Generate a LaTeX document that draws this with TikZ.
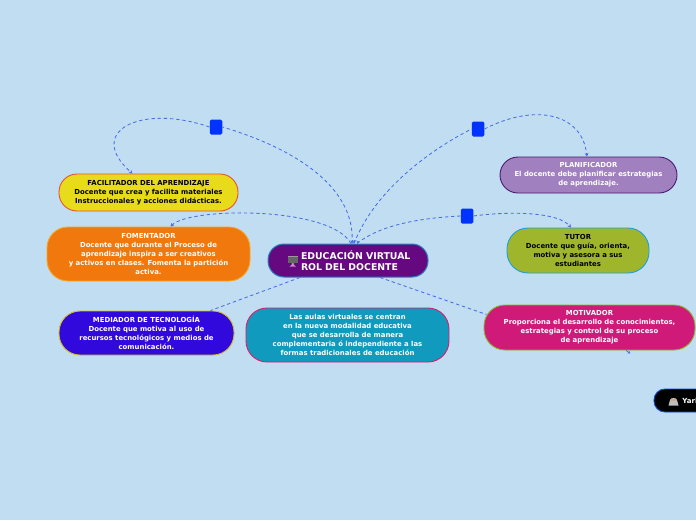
\documentclass[tikz,border=0pt]{standalone}
\usepackage{fontspec}
\setmainfont{DejaVu Sans}
\usetikzlibrary{arrows.meta}
\definecolor{bgc}{HTML}{C1DDF1}
\definecolor{linkc}{HTML}{4A6EE6}
\definecolor{handlec}{HTML}{0033FF}
\tikzset{
  topic/.style={draw, line width=0.9pt, rounded corners=21pt, align=center, inner sep=0pt, font=\fontsize{6.9}{8.9}\selectfont\bfseries},
  handle/.style={draw=none, fill=handlec, rounded corners=1.5pt, minimum width=12.5pt, minimum height=15pt, inner sep=0pt},
  link/.style={draw=linkc, line width=0.85pt, dash pattern=on 3.4pt off 2.8pt},
  linkarrow/.style={link, -{Stealth[length=3.5pt,width=3.8pt]}}
}
\begin{document}
\begin{tikzpicture}[x=1pt,y=-1pt]
\useasboundingbox (0,0) rectangle (696,520);
\clip (0,0) rectangle (696,520);
\fill[bgc] (0,0) rectangle (696,520);
% handles
\node[handle] (h1) at (216,127) {};
\node[handle] (h2) at (478,129) {};
\node[handle] (h3) at (467,216) {};
% topics
\node[topic, rounded corners=18pt, draw={rgb,255:red,232;green,80;blue,58}, fill={rgb,255:red,232;green,220;blue,26}, text=black, minimum width=179pt, minimum height=37pt] (fac) at (148.5,192.5) {FACILITADOR DEL APRENDIZAJE\\Docente que crea y facilita materiales\\Instruccionales y acciones didácticas.};
\node[topic, draw={rgb,255:red,245;green,166;blue,35}, fill={rgb,255:red,240;green,120;blue,12}, text=white, minimum width=203pt, minimum height=54pt] (fom) at (148.5,254) {FOMENTADOR\\Docente que durante el Proceso de\\aprendizaje inspira a ser creativos\\y activos en clases. Fomenta la partición\\activa.};
\node[topic, draw={rgb,255:red,212;green,192;blue,32}, fill={rgb,255:red,50;green,9;blue,220}, text=white, minimum width=175pt, minimum height=44pt] (med) at (146.5,333) {MEDIADOR DE TECNOLOGÍA\\Docente que motiva al uso de\\recursos tecnológicos y medios de\\comunicación.};
\node[topic, draw={rgb,255:red,224;green,26;blue,112}, fill={rgb,255:red,16;green,154;blue,189}, text=white, minimum width=203pt, minimum height=54pt] (aul) at (347.5,335) {Las aulas virtuales se centran\\en la nueva modalidad educativa\\que se desarrolla de manera\\complementaria ó independiente a las\\formas tradicionales de educación};
\node[topic, draw={rgb,255:red,143;green,176;blue,48}, fill={rgb,255:red,207;green,26;blue,122}, text=white, minimum width=211pt, minimum height=45pt] (mot) at (589.5,327.5) {MOTIVADOR\\Proporciona el desarrollo de conocimientos,\\estrategias y control de su proceso\\de aprendizaje};
\node[topic, rounded corners=18pt, draw={rgb,255:red,74;green,26;blue,112}, fill={rgb,255:red,160;green,128;blue,191}, text=white, minimum width=177pt, minimum height=36pt] (pla) at (588.5,175) {PLANIFICADOR\\El docente debe planificar estrategias\\de aprendizaje.};
\node[topic, draw={rgb,255:red,26;green,160;blue,224}, fill={rgb,255:red,159;green,181;blue,44}, text=black, minimum width=142pt, minimum height=45pt] (tut) at (578,250.5) {TUTOR\\Docente que guía, orienta,\\motiva y asesora a sus\\estudiantes};
\node[topic, rounded corners=11pt, draw={rgb,255:red,16;green,80;blue,208}, fill=black, text=white, minimum width=80pt, minimum height=23pt, anchor=west, text width=70pt, align=left, font=\fontsize{7}{9}\selectfont\bfseries] (yar) at (653.5,400.5) {\hspace*{23.5pt}Yari};
\node[topic, rounded corners=16pt, line width=1pt, draw={rgb,255:red,42;green,127;blue,192}, fill={rgb,255:red,102;green,8;blue,127}, text=white, minimum width=160pt, minimum height=33pt, align=left, font=\fontsize{9.35}{11}\selectfont\bfseries, text width=127pt] (root) at (348,260.5) {\hspace*{16.5pt}EDUCACIÓN VIRTUAL\\\hspace*{16.5pt}ROL DEL DOCENTE};
% root icon
\fill[black!60] (287.5,255.5) rectangle (298,263);
\fill[black!40] (287.5,255.5) rectangle (298,257);
\fill[violet!45!white] (292,263) -- (293.5,263) -- (294,265) -- (296,266.5) -- (289.5,266.5) -- (291.5,265) -- cycle;
% yari icon
\fill[black!25] (668.5,405.5) -- (670,400) to[out=80,in=100] (677,400) -- (678.5,405.5) -- cycle;
\fill[brown!70!white] (670.5,400.5) to[out=80,in=100] (676.5,400.5) -- cycle;
% connectors
\draw[link] ([xshift=4pt]root.north) .. controls (356,190) and (300,150) .. (h1.east);
\draw[linkarrow] (h1.west) .. controls (140,103) and (85,132) .. ([xshift=-16pt]fac.north);
\draw[linkarrow] ([xshift=3pt]root.north) .. controls (330,206) and (190,207) .. ([xshift=22pt]fom.north);
\draw[link] ([xshift=6pt]root.north) .. controls (375,190) and (430,150) .. (h2.west);
\draw[linkarrow] (h2.east) .. controls (535,103) and (582,113) .. ([xshift=-1.5pt]pla.north);
\draw[link] ([xshift=9pt]root.north) .. controls (380,225) and (420,218) .. (h3.west);
\draw[linkarrow] (h3.east) .. controls (510,211) and (558,212) .. ([xshift=-7pt]tut.north);
\draw[link] ([xshift=-48pt]root.south) -- ([xshift=64pt]med.north);
\draw[link] ([xshift=32pt]root.south) -- ([xshift=3pt,yshift=13pt]mot.west);
\coordinate (motstub) at (626,350.5);
\draw[linkc, line width=0.7pt, -{Stealth[length=3pt,width=3.2pt]}] (motstub) -- ([xshift=41pt,yshift=-3pt]mot.south);
\draw[-{Stealth[length=3pt,width=3.2pt]},linkc] (352,240) -- ([xshift=4pt]root.north);
\draw[-{Stealth[length=3pt,width=3.2pt]},linkc] (354,240) -- ([xshift=6pt]root.north);
\draw[-{Stealth[length=3pt,width=3.2pt]},linkc] (358,241) -- ([xshift=9pt]root.north);
\end{tikzpicture}
\end{document}
